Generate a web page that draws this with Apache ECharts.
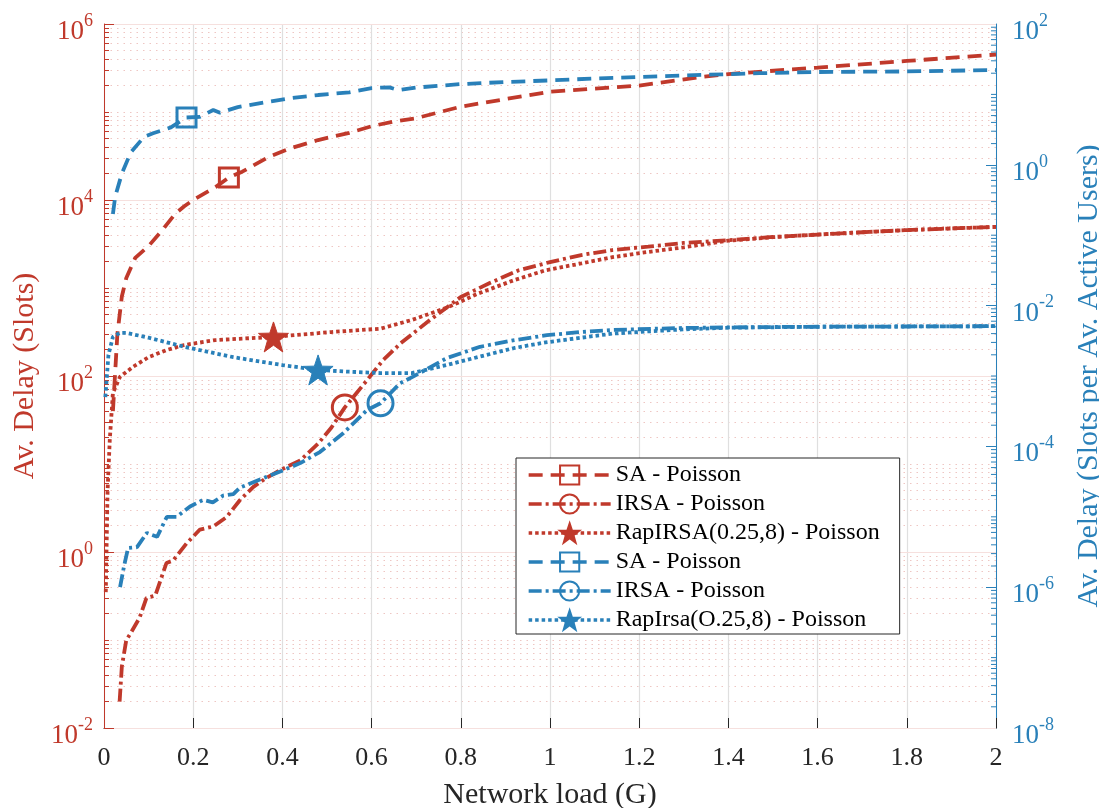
<!DOCTYPE html>
<html><head><meta charset="utf-8">
<script src="https://cdn.jsdelivr.net/npm/echarts@6/dist/echarts.min.js"></script>
<style>html,body{margin:0;padding:0;background:#fff}#c{width:1099px;height:808px}</style>
</head><body><div id="c"></div>
<script>
// ---------------- data ----------------
// Red (left axis, Av. Delay in slots)
const redSA_G  = [0.02,0.03,0.04,0.05,0.07,0.1,0.13,0.16,0.18,0.2,0.25,0.28,0.31,0.37,0.42,0.48,0.55,0.6,0.65,0.7,0.8,0.9,1.0,1.2,1.34,1.4,1.6,1.8,2.0];
const redSA_V  = [40,300,800,1300,2200,3000,4500,7000,8500,10000,14000,18000,21000,31000,39000,48000,58000,69000,78000,85000,115000,140000,170000,200000,250000,270000,320000,380000,450000];
const redSA_mark = 0.28;

const redIRSA_G = [0.035,0.04,0.05,0.06,0.08,0.095,0.115,0.14,0.155,0.185,0.215,0.245,0.275,0.305,0.335,0.365,0.395,0.44,0.48,0.51,0.54,0.59,0.625,0.665,0.73,0.8,0.865,0.93,1.0,1.07,1.14,1.22,1.3,1.4,1.5,1.6,1.7,1.8,1.9,2.0];
const redIRSA_V = [0.02,0.05,0.1,0.12,0.18,0.3,0.32,0.75,0.8,1.25,1.8,1.95,2.5,3.9,5.5,7,8.5,11,17,26,44,90,150,235,430,790,1140,1590,1970,2370,2700,2950,3250,3500,3800,4050,4300,4550,4750,4950];
const redIRSA_mark = 0.54;

const redRap_G = [0.004,0.008,0.013,0.02,0.036,0.065,0.1,0.14,0.18,0.25,0.38,0.51,0.62,0.69,0.77,0.84,0.92,0.99,1.07,1.14,1.22,1.3,1.4,1.5,1.6,1.7,1.8,1.9,2.0];
const redRap_V = [0.35,5,19,64,98,127,164,197,225,256,278,316,345,433,600,870,1230,1590,1900,2240,2570,2900,3450,3780,4050,4300,4550,4750,4950];
const redRap_mark = 0.38;

// Blue (right axis, Av. Delay per active user)
const blueSA_G = [0.02,0.025,0.04,0.06,0.09,0.11,0.15,0.185,0.215,0.245,0.26,0.3,0.365,0.42,0.48,0.55,0.6,0.64,0.66,0.7,0.8,0.9,1.0,1.1,1.2,1.34,1.47,1.6,1.8,2.0];
const blueSA_V = [0.2,0.35,0.75,1.5,2.5,2.8,3.4,4.7,4.8,6.0,5.5,6.6,7.8,8.9,9.8,10.7,12.3,12.6,11.5,12.5,14,15,15.8,16.8,17.7,18.9,20,20.8,21.2,22.2];
const blueSA_mark = 0.185;

const blueIRSA_G = [0.036,0.045,0.054,0.074,0.096,0.119,0.141,0.163,0.193,0.222,0.244,0.267,0.29,0.305,0.365,0.395,0.44,0.484,0.537,0.59,0.62,0.664,0.693,0.769,0.843,0.917,0.993,1.067,1.14,1.29,1.4,1.56,1.8,2.0];
const blueIRSA_V = [1.0e-6,2.0e-6,3.6e-6,3.7e-6,5.9e-6,5.2e-6,1.0e-5,1.0e-5,1.4e-5,1.74e-5,1.6e-5,2.0e-5,2.1e-5,2.6e-5,3.7e-5,4.4e-5,5.8e-5,8.3e-5,1.55e-4,3.3e-4,4.1e-4,7.9e-4,9.8e-4,1.8e-3,2.6e-3,3.2e-3,3.8e-3,4.2e-3,4.5e-3,4.8e-3,4.9e-3,5.0e-3,5.05e-3,5.1e-3];
const blueIRSA_mark = 0.62;

const blueRap_G = [0.003,0.01,0.02,0.035,0.05,0.1,0.18,0.29,0.4,0.48,0.55,0.62,0.69,0.77,0.84,0.92,0.99,1.07,1.14,1.22,1.3,1.4,1.6,1.8,2.0];
const blueRap_V = [5e-4,2.0e-3,3.6e-3,4.1e-3,4.1e-3,3.5e-3,2.6e-3,1.85e-3,1.43e-3,1.22e-3,1.15e-3,1.1e-3,1.1e-3,1.44e-3,1.87e-3,2.5e-3,3.0e-3,3.5e-3,4.0e-3,4.3e-3,4.6e-3,4.85e-3,5.0e-3,5.05e-3,5.1e-3];
const blueRap_mark = 0.48;

const seriesNames = ['SA - Poisson','IRSA - Poisson','RapIRSA(0.25,8) - Poisson','SA - Poisson ','IRSA - Poisson ','RapIrsa(O.25,8) - Poisson'];

// ---------------- style ----------------
const RED = '#c0392b', BLUE = '#2980b9', INK = '#262626';
const SERIF = '"Liberation Serif","Times New Roman",serif';
const STAR = 'path://M0,-10 L2.35,-3.24 L9.51,-3.09 L3.8,1.24 L5.88,8.09 L0,4 L-5.88,8.09 L-3.8,1.24 L-9.51,-3.09 L-2.35,-3.24 Z';
const DASH = [14, 8], DASHDOT = [13, 4, 3, 4], DOT = [3.5, 3];
const LW = 3.8;

// right-axis minor tick values (2..9 x 10^k and odd decades)
const rightMinor = [];
for (let e = -8; e < 2; e++) for (let m = 1; m <= 9; m++) {
  if (m === 1 && e % 2 === 0) continue;
  rightMinor.push(m * Math.pow(10, e));
}

function supLabel(v) {
  const e = Math.round(Math.log10(v));
  return '{b|10}{s|' + e + '}';
}
function rich(color) {
  return {
    b: {fontFamily: SERIF, fontSize: 27, color: color, padding: [16, 0, 0, 0]},
    s: {fontFamily: SERIF, fontSize: 18, color: color, padding: [0, 0, 6, 0]}
  };
}

function line(name, G, V, yIdx, color, dash, symbol, size, markG, filled) {
  const idx = G.indexOf(markG);
  return {
    type: 'line', name: name, yAxisIndex: yIdx,
    data: G.map((g, i) => [g, V[i]]),
    showSymbol: true, showAllSymbol: true, symbol: symbol,
    symbolSize: (val, p) => (p.dataIndex === idx ? size : 0),
    lineStyle: {color: color, width: LW, type: dash},
    itemStyle: {color: filled ? color : 'rgba(255,255,255,0)', borderColor: color, borderWidth: filled ? 1 : 3},
    silent: true, animation: false, z: 3
  };
}

const chart = echarts.init(document.getElementById('c'), null, {renderer: 'canvas'});
chart.setOption({
  animation: false,
  backgroundColor: '#fff',
  grid: {left: 104, right: 103, top: 24, bottom: 80, containLabel: false, outerBoundsMode: 'none'},
  legend: {
    orient: 'vertical', left: 516, top: 458, data: seriesNames,
    itemWidth: 82, itemHeight: 24, itemGap: 5,
    padding: [5, 20, 2, 11],
    backgroundColor: '#fff', borderColor: INK, borderWidth: 1,
    lineStyle: {width: 3.3},
    textStyle: {fontFamily: SERIF, fontSize: 24, color: '#000'},
    selectedMode: false
  },
  xAxis: {
    type: 'value', min: 0, max: 2, interval: 0.2,
    name: 'Network load (G)', nameLocation: 'middle', nameGap: 52,
    nameTextStyle: {fontFamily: SERIF, fontSize: 30, color: INK},
    axisLine: {lineStyle: {color: INK, width: 1}},
    axisTick: {inside: true, length: 10, lineStyle: {color: INK}},
    axisLabel: {fontFamily: SERIF, fontSize: 26, color: INK, margin: 17,
      formatter: v => String(Math.round(v * 10) / 10)},
    splitLine: {show: true, lineStyle: {color: '#dfdfdf', width: 1.2}}
  },
  yAxis: [
    { // 0: left visible (labels every 2 decades)
      type: 'log', logBase: 100, min: 1e-2, max: 1e6, position: 'left',
      name: 'Av. Delay (Slots)', nameLocation: 'middle', nameGap: 38, nameRotate: 90,
      nameTextStyle: {fontFamily: SERIF, fontSize: 30, color: RED},
      axisLine: {show: true, lineStyle: {color: RED, width: 1}},
      axisTick: {show: true, inside: true, length: 10, lineStyle: {color: RED}},
      axisLabel: {margin: 11, formatter: supLabel, rich: rich(RED)},
      splitLine: {show: true, lineStyle: {color: '#f6e0de', width: 1.2}},
      minorTick: {show: false}, minorSplitLine: {show: false}, z: 2
    },
    { // 1: left hidden helper for minor ticks / dotted grid
      type: 'log', logBase: 10, min: 1e-2, max: 1e6, position: 'left',
      axisLine: {show: false},
      axisTick: {show: true, inside: true, length: 5, lineStyle: {color: RED}},
      axisLabel: {show: false},
      minorTick: {show: true, splitNumber: 9, length: 5, lineStyle: {color: RED}},
      splitLine: {show: true, lineStyle: {color: '#eec6c3', width: 1, type: [1.5, 5]}},
      minorSplitLine: {show: true, lineStyle: {color: '#eec6c3', width: 1, type: [1.5, 5]}}
    },
    { // 2: right visible
      type: 'log', logBase: 100, min: 1e-8, max: 1e2, position: 'right',
      name: 'Av. Delay (Slots per Av. Active Users)', nameLocation: 'middle', nameGap: 78, nameRotate: 90,
      nameTextStyle: {fontFamily: SERIF, fontSize: 30, color: BLUE},
      axisLine: {show: true, lineStyle: {color: BLUE, width: 1}},
      axisTick: {show: true, inside: true, length: 10, lineStyle: {color: BLUE}},
      axisLabel: {margin: 16, formatter: supLabel, rich: rich(BLUE)},
      splitLine: {show: false}
    }
  ],
  series: [
    line(seriesNames[0], redSA_G, redSA_V, 0, RED, DASH, 'rect', 19, redSA_mark, false),
    line(seriesNames[1], redIRSA_G, redIRSA_V, 0, RED, DASHDOT, 'circle', 25, redIRSA_mark, false),
    line(seriesNames[2], redRap_G, redRap_V, 0, RED, DOT, STAR, 30, redRap_mark, true),
    line(seriesNames[3], blueSA_G, blueSA_V, 2, BLUE, DASH, 'rect', 19, blueSA_mark, false),
    line(seriesNames[4], blueIRSA_G, blueIRSA_V, 2, BLUE, DASHDOT, 'circle', 25, blueIRSA_mark, false),
    line(seriesNames[5], blueRap_G, blueRap_V, 2, BLUE, DOT, STAR, 30, blueRap_mark, true),
    {
      type: 'custom', name: 'right minor ticks', xAxisIndex: 0, yAxisIndex: 2, silent: true, clip: false, z: 4,
      data: rightMinor.map(v => [2, v]),
      renderItem: function (params, api) {
        const c = api.coord([api.value(0), api.value(1)]);
        return {type: 'line', shape: {x1: c[0] - 5, y1: c[1], x2: c[0], y2: c[1]},
                style: {stroke: BLUE, lineWidth: 1}};
      }
    }
  ]
});
</script></body></html>
